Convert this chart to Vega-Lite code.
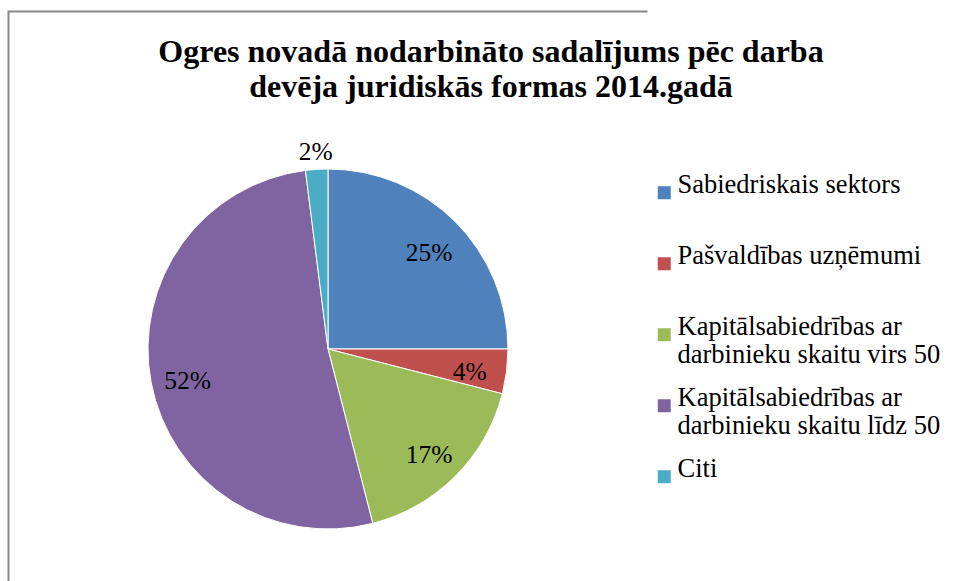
{
  "$schema": "https://vega.github.io/schema/vega-lite/v6.json",
  "width": 639,
  "height": 675,
  "autosize": "none",
  "padding": {"left": 8.5, "top": 11.5, "right": 307.5, "bottom": -105.5},
  "background": "white",
  "view": {"stroke": "#888888", "strokeWidth": 2, "strokeDash": [639, 1314, 675], "fill": null},
  "title": {
    "text": ["Ogres novadā nodarbināto sadalījums pēc darba", "devēja juridiskās formas 2014.gadā"],
    "font": "Liberation Serif",
    "fontSize": 32,
    "fontWeight": "bold",
    "lineHeight": 35,
    "color": "black",
    "anchor": "middle",
    "frame": "group",
    "dx": 163,
    "offset": -92.5
  },
  "data": {
    "values": [
      {"n": 1, "category": "Sabiedriskais sektors", "share": 0.25},
      {"n": 2, "category": "Pašvaldības uzņēmumi", "share": 0.04},
      {"n": 3, "category": "Kapitālsabiedrības ar darbinieku skaitu virs 50", "share": 0.17},
      {"n": 4, "category": "Kapitālsabiedrības ar darbinieku skaitu līdz 50", "share": 0.52},
      {"n": 5, "category": "Citi", "share": 0.02}
    ]
  },
  "encoding": {
    "theta": {"field": "share", "type": "quantitative", "stack": true},
    "order": {"field": "n", "type": "quantitative"}
  },
  "layer": [
    {
      "mark": {"type": "arc", "outerRadius": 180, "stroke": "white", "strokeWidth": 1},
      "encoding": {
        "color": {
          "field": "category",
          "type": "nominal",
          "sort": null,
          "scale": {
            "domain": ["Sabiedriskais sektors", "Pašvaldības uzņēmumi", "Kapitālsabiedrības ar darbinieku skaitu virs 50", "Kapitālsabiedrības ar darbinieku skaitu līdz 50", "Citi"],
            "range": ["#4F81BD", "#C0504D", "#9BBB59", "#8064A2", "#4BACC6"]
          },
          "legend": {
            "title": null,
            "orient": "none",
            "legendX": 642.5,
            "legendY": 168,
            "padding": 0,
            "symbolType": "square",
            "symbolSize": 169,
            "symbolStrokeWidth": 0,
            "labelFont": "Liberation Serif",
            "labelFontSize": 26.5,
            "labelColor": "black",
            "labelLimit": 400,
            "labelOffset": 0,
            "labelBaseline": "alphabetic",
            "gridAlign": "all",
            "rowPadding": 15,
            "labelExpr": "split(replace(datum.label, 'ar darbinieku', 'ar|darbinieku'), '|')",
            "encode": {"labels": {"dy": {"value": 8}, "lineHeight": {"value": 30.5}}}
          }
        }
      }
    },
    {
      "mark": {"type": "text", "radius": 143, "dy": 5, "font": "Liberation Serif", "fontSize": 25.5, "color": "black"},
      "encoding": {
        "text": {"condition": {"test": "datum.share < 0.03", "value": ""}, "field": "share", "type": "quantitative", "format": ".0%"}
      }
    },
    {
      "mark": {"type": "text", "radius": 197, "font": "Liberation Serif", "fontSize": 25.5, "color": "black"},
      "encoding": {
        "text": {"condition": {"test": "datum.share >= 0.03", "value": ""}, "field": "share", "type": "quantitative", "format": ".0%"}
      }
    }
  ]
}
